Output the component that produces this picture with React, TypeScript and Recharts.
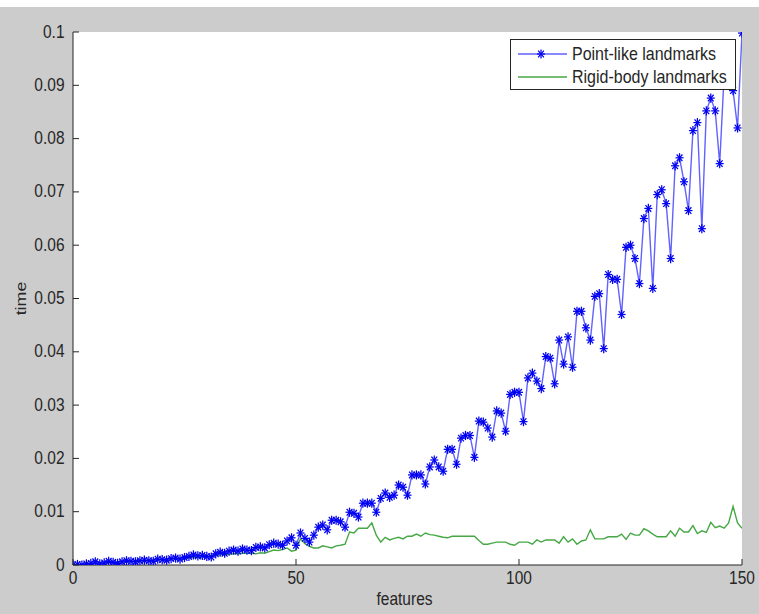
import React from 'react';
import { LineChart, Line, XAxis, YAxis, CartesianGrid, Legend } from 'recharts';

const xTicks = [0, 50, 100, 150];
const yTicks = [0, 0.01, 0.02, 0.03, 0.04, 0.05, 0.06, 0.07, 0.08, 0.09, 0.1];
const seriesNames = ['Point-like landmarks', 'Rigid-body landmarks'];
const axisTitles = { x: 'features', y: 'time' };

const pointLike = [
  0.0000, 0.0001, 0.0000, 0.0002, 0.0003, 0.0006, 0.0002, 0.0004, 0.0007, 0.0005,
  0.0003, 0.0006, 0.0008, 0.0007, 0.0006, 0.0008, 0.0009, 0.0008, 0.0007, 0.0011,
  0.0010, 0.0009, 0.0012, 0.0013, 0.0011, 0.0014, 0.0016, 0.0019, 0.0017, 0.0018,
  0.0016, 0.0015, 0.0021, 0.0024, 0.0022, 0.0026, 0.0028, 0.0026, 0.0030, 0.0028,
  0.0027, 0.0033, 0.0034, 0.0032, 0.0038, 0.0041, 0.0039, 0.0037, 0.0045, 0.0051,
  0.0037, 0.0060, 0.0050, 0.0043, 0.0056, 0.0071, 0.0075, 0.0066, 0.0084, 0.0084,
  0.0081, 0.0071, 0.0099, 0.0097, 0.0090, 0.0116, 0.0116, 0.0116, 0.0099, 0.0125,
  0.0135, 0.0127, 0.0131, 0.0150, 0.0146, 0.0131, 0.0169, 0.0169, 0.0169, 0.0152,
  0.0184, 0.0197, 0.0184, 0.0176, 0.0217, 0.0217, 0.0189, 0.0238, 0.0243, 0.0243,
  0.0202, 0.0270, 0.0268, 0.0257, 0.0240, 0.0289, 0.0285, 0.0251, 0.0320, 0.0324,
  0.0324, 0.0269, 0.0351, 0.0360, 0.0345, 0.0331, 0.0391, 0.0388, 0.0340, 0.0422,
  0.0377, 0.0428, 0.0371, 0.0476, 0.0476, 0.0445, 0.0422, 0.0504, 0.0509, 0.0406,
  0.0545, 0.0536, 0.0536, 0.0470, 0.0596, 0.0600, 0.0575, 0.0528, 0.0650, 0.0669,
  0.0519, 0.0695, 0.0704, 0.0678, 0.0575, 0.0749, 0.0764, 0.0719, 0.0665, 0.0815,
  0.0830, 0.0631, 0.0852, 0.0876, 0.0852, 0.0753, 0.0920, 0.0940, 0.0890, 0.0820,
  0.0998,
];

const rigidBody = [
  0.0000, 0.0001, 0.0001, 0.0002, 0.0002, 0.0003, 0.0003, 0.0004, 0.0004, 0.0005,
  0.0005, 0.0006, 0.0006, 0.0007, 0.0007, 0.0008, 0.0008, 0.0009, 0.0009, 0.0010,
  0.0010, 0.0011, 0.0011, 0.0012, 0.0012, 0.0013, 0.0014, 0.0014, 0.0015, 0.0016,
  0.0016, 0.0017, 0.0018, 0.0019, 0.0019, 0.0020, 0.0021, 0.0021, 0.0022, 0.0022,
  0.0022, 0.0021, 0.0023, 0.0022, 0.0025, 0.0028, 0.0027, 0.0029, 0.0032, 0.0026,
  0.0028, 0.0049, 0.0040, 0.0035, 0.0032, 0.0032, 0.0036, 0.0034, 0.0032, 0.0036,
  0.0037, 0.0039, 0.0062, 0.0060, 0.0069, 0.0069, 0.0069, 0.0079, 0.0056, 0.0043,
  0.0052, 0.0047, 0.0050, 0.0052, 0.0049, 0.0054, 0.0054, 0.0058, 0.0054, 0.0060,
  0.0057, 0.0056, 0.0054, 0.0052, 0.0051, 0.0054, 0.0054, 0.0054, 0.0054, 0.0054,
  0.0054, 0.0046, 0.0039, 0.0039, 0.0041, 0.0043, 0.0043, 0.0043, 0.0039, 0.0037,
  0.0043, 0.0043, 0.0043, 0.0039, 0.0047, 0.0043, 0.0047, 0.0047, 0.0047, 0.0041,
  0.0053, 0.0043, 0.0049, 0.0039, 0.0045, 0.0047, 0.0066, 0.0049, 0.0049, 0.0049,
  0.0053, 0.0053, 0.0053, 0.0058, 0.0048, 0.0060, 0.0056, 0.0056, 0.0068, 0.0064,
  0.0058, 0.0053, 0.0053, 0.0053, 0.0064, 0.0054, 0.0069, 0.0062, 0.0062, 0.0074,
  0.0059, 0.0064, 0.0061, 0.0080, 0.0070, 0.0073, 0.0069, 0.0079, 0.0110, 0.0079,
  0.0069,
];

const data = pointLike.map((v, i) => ({ features: i, point: v, rigid: rigidBody[i] }));

const BLUE_LINE = '#6262ff';
const BLUE_MARK = '#0000f0';
const GREEN = '#45a845';
const INK = '#262626';
const FONT = '"Liberation Sans", Arial, Helvetica, sans-serif';
const SY = 1.15;
const TICK = 6;

function Star({ cx, cy, r = 4 }: { cx: number; cy: number; r?: number }) {
  const ry = r * SY;
  const d = r * 0.72;
  const dy = d * SY;
  return (
    <g stroke={BLUE_MARK} strokeWidth={1.25}>
      <line x1={cx - r} y1={cy} x2={cx + r} y2={cy} />
      <line x1={cx} y1={cy - ry} x2={cx} y2={cy + ry} />
      <line x1={cx - d} y1={cy - dy} x2={cx + d} y2={cy + dy} />
      <line x1={cx - d} y1={cy + dy} x2={cx + d} y2={cy - dy} />
    </g>
  );
}

const textStyle = { fontFamily: FONT, fontSize: 15.5, fill: INK };

function LeftTick(props: any) {
  const { x, y, payload } = props;
  return (
    <g>
      <line x1={x} y1={y} x2={x + TICK} y2={y} stroke={INK} />
      <text transform={`translate(${x - 8.5},${y + 5.5}) scale(1,${SY})`} textAnchor="end" style={textStyle}>
        {String(payload.value)}
      </text>
    </g>
  );
}

function BottomTick(props: any) {
  const { x, y, payload } = props;
  return (
    <g>
      <line x1={x} y1={y} x2={x} y2={y - TICK} stroke={INK} />
      <text transform={`translate(${x},${y + 19}) scale(1,${SY})`} textAnchor="middle" style={textStyle}>
        {String(payload.value)}
      </text>
    </g>
  );
}

function RightTick(props: any) {
  const { x, y } = props;
  return <line x1={x} y1={y} x2={x - TICK} y2={y} stroke={INK} />;
}

function TopTick(props: any) {
  const { x, y } = props;
  return <line x1={x} y1={y} x2={x} y2={y + TICK} stroke={INK} />;
}

function XTitle(props: any) {
  const vb = props.viewBox || {};
  const cx = vb.x + vb.width / 2;
  return (
    <text transform={`translate(${cx - 3},${vb.y + 40}) scale(1,${SY})`} textAnchor="middle" style={textStyle}>
      {axisTitles.x}
    </text>
  );
}

function YTitle(props: any) {
  const vb = props.viewBox || {};
  const cy = vb.y + vb.height / 2;
  return (
    <text transform={`translate(26,${cy}) rotate(-90) scale(${SY},1)`} textAnchor="middle" style={textStyle}>
      {axisTitles.y}
    </text>
  );
}

function LegendBox() {
  const lt = { fontFamily: FONT, fontSize: 16, fill: INK };
  return (
    <svg width={226} height={51} style={{ display: 'block' }}>
      <rect x={0.5} y={0.5} width={225} height={50} fill="#ffffff" stroke={INK} />
      <line x1={8} x2={57} y1={15} y2={15} stroke={BLUE_LINE} strokeWidth={1.4} />
      <Star cx={31} cy={15} />
      <text transform={`translate(62,${15 + 5.8}) scale(1,${SY})`} style={lt}>{seriesNames[0]}</text>
      <line x1={8} x2={57} y1={38} y2={38} stroke={GREEN} strokeWidth={1.4} />
      <text transform={`translate(62,${38 + 5.8}) scale(1,${SY})`} style={lt}>{seriesNames[1]}</text>
    </svg>
  );
}

export default function App() {
  return (
    <div style={{ position: 'absolute', left: 0, top: 0, width: 759, height: 614, background: '#ffffff', overflow: 'hidden' }}>
      <div style={{ position: 'absolute', left: 0, top: 7, width: 759, height: 607, background: '#cccccc' }} />
      <div style={{ position: 'absolute', left: 0, top: 0 }}>
        <LineChart width={759} height={614} data={data} margin={{ top: 32, right: 17, bottom: 0, left: 0 }}>
          <CartesianGrid horizontal={false} vertical={false} fill="#ffffff" />
          <XAxis
            dataKey="features"
            type="number"
            domain={[0, 150]}
            ticks={xTicks}
            height={49}
            tickSize={0}
            tickMargin={0}
            tickLine={false}
            axisLine={{ stroke: INK }}
            tick={<BottomTick />}
            label={<XTitle />}
            allowDataOverflow
          />
          <XAxis
            xAxisId="top"
            orientation="top"
            type="number"
            domain={[0, 150]}
            ticks={xTicks}
            height={0}
            tickSize={0}
            tickMargin={0}
            tickLine={false}
            axisLine={{ stroke: INK }}
            tick={<TopTick />}
            allowDataOverflow
          />
          <YAxis
            type="number"
            domain={[0, 0.1]}
            ticks={yTicks}
            width={73}
            tickSize={0}
            tickMargin={0}
            tickLine={false}
            axisLine={{ stroke: INK }}
            tick={<LeftTick />}
            label={<YTitle />}
            allowDataOverflow
          />
          <YAxis
            yAxisId="r"
            orientation="right"
            type="number"
            domain={[0, 0.1]}
            ticks={yTicks}
            width={0}
            tickSize={0}
            tickMargin={0}
            tickLine={false}
            axisLine={{ stroke: INK }}
            tick={<RightTick />}
            allowDataOverflow
          />
          <Legend
            layout="vertical"
            align="center"
            verticalAlign="middle"
            content={<LegendBox />}
            wrapperStyle={{ position: 'absolute', left: 510, top: 39, width: 226, height: 51, margin: 0 }}
          />
          <Line
            dataKey="rigid"
            name={seriesNames[1]}
            stroke={GREEN}
            strokeWidth={1.4}
            dot={false}
            activeDot={false}
            isAnimationActive={false}
          />
          <Line
            dataKey="point"
            name={seriesNames[0]}
            stroke={BLUE_LINE}
            strokeWidth={1.4}
            dot={(p: any) => <Star key={`s${p.index}`} cx={p.cx} cy={p.cy} />}
            activeDot={false}
            isAnimationActive={false}
          />
        </LineChart>
      </div>
    </div>
  );
}
